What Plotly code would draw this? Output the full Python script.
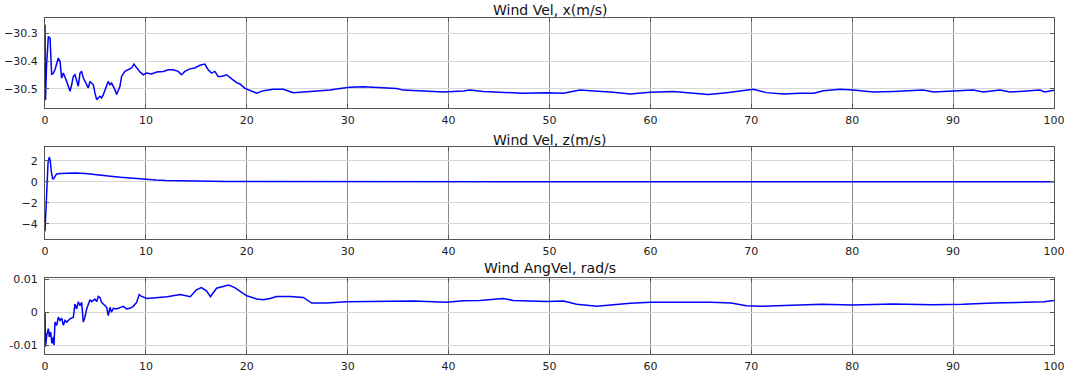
import plotly.graph_objects as go

# ---- data ----
t_velx = [0, 0.05, 0.15, 0.33, 0.5, 0.66, 0.83, 0.99, 1.32, 1.49, 1.65, 1.82, 2.15, 2.48, 2.64, 2.81,
          2.97, 3.14, 3.30, 3.47, 3.63, 3.80, 3.96, 4.29, 4.46, 4.79, 4.95, 5.12, 5.45, 5.61, 5.78,
          6.11, 6.27, 6.44, 6.60, 6.93, 7.10, 7.43, 7.59, 7.92, 8.25, 8.58, 8.81, 9.08, 9.41, 9.74,
          10.07, 10.56, 11.06, 11.72, 12.21, 12.71, 13.2, 13.53, 13.86, 14.36, 14.85, 15.35, 15.84,
          16.17, 16.5, 16.83, 17.16, 17.49, 17.99, 18.48, 18.98, 19.31, 19.82, 20.98, 21.64, 22.63,
          23.62, 24.61, 26.6, 28.24, 29.24, 30.23, 31.55, 33.2, 34.85, 35.5, 37.5, 39.5, 41.46, 42.1,
          43.44, 45.75, 47.4, 49.7, 51.4, 53.0, 54.7, 56.3, 58.0, 59.97, 62.27, 63.9, 65.74, 67.56,
          68.88, 70.2, 71.5, 73.2, 74.8, 76.2, 77.14, 78.8, 80.1, 82.1, 84.1, 87.05, 88.05, 90.0,
          92.0, 93.0, 94.65, 95.65, 96.95, 98.6, 99.1, 100]
velx = [-30.27, -30.54, -30.42, -30.312, -30.318, -30.449, -30.443, -30.431, -30.389, -30.401,
        -30.461, -30.443, -30.473, -30.508, -30.485, -30.455, -30.449, -30.473, -30.490, -30.443,
        -30.437, -30.461, -30.473, -30.496, -30.473, -30.485, -30.514, -30.538, -30.526, -30.532,
        -30.520, -30.490, -30.473, -30.485, -30.479, -30.502, -30.520, -30.490, -30.455, -30.437,
        -30.431, -30.425, -30.411, -30.425, -30.439, -30.449, -30.443, -30.446, -30.439, -30.437,
        -30.431, -30.431, -30.437, -30.449, -30.437, -30.428, -30.425, -30.415, -30.411, -30.431,
        -30.443, -30.437, -30.455, -30.455, -30.449, -30.463, -30.477, -30.482, -30.498, -30.515,
        -30.506, -30.501, -30.501, -30.513, -30.509, -30.504, -30.498, -30.494, -30.492, -30.494,
        -30.498, -30.504, -30.507, -30.511, -30.507, -30.504, -30.509, -30.512, -30.515, -30.513,
        -30.515, -30.504, -30.507, -30.512, -30.518, -30.512, -30.509, -30.513, -30.520, -30.513,
        -30.506, -30.501, -30.513, -30.518, -30.515, -30.515, -30.506, -30.501, -30.504, -30.511,
        -30.509, -30.504, -30.511, -30.508, -30.504, -30.511, -30.504, -30.511, -30.508, -30.504,
        -30.511, -30.504]

t_velz = [0, 0.08, 0.17, 0.3, 0.42, 0.52, 0.62, 0.75, 0.85, 0.99, 1.15, 1.5, 2, 3, 4, 4.5, 5.5,
          6.5, 7.5, 8.5, 10, 11, 12, 14, 16, 18, 20, 25, 30, 40, 60, 80, 100]
velz = [-4.7, -3.0, -0.4, 1.8, 2.35, 2.0, 1.0, 0.3, 0.3, 0.5, 0.75, 0.78, 0.8, 0.84, 0.78, 0.74,
        0.64, 0.52, 0.42, 0.33, 0.22, 0.17, 0.13, 0.08, 0.05, 0.03, 0.02, 0.01, 0.01, 0.0, 0.0,
        0.0, 0.0]

t_angv = [0, 0.05, 0.17, 0.33, 0.43, 0.56, 0.69, 0.83, 0.89, 0.99, 1.16, 1.32, 1.49, 1.65, 1.82,
          1.98, 2.15, 2.48, 2.81, 2.97, 3.14, 3.30, 3.47, 3.63, 3.80, 3.96, 4.13, 4.46, 4.62, 4.95,
          5.12, 5.28, 5.45, 5.61, 5.78, 6.11, 6.27, 6.44, 6.60, 6.77, 7.10, 7.43, 7.76, 8.09, 8.42,
          8.75, 9.08, 9.34, 9.57, 10.1, 12.1, 13.4, 14.4, 15.0, 15.5, 16.0, 16.4, 17.0, 18.2, 18.8,
          20.0, 21.0, 21.64, 22.3, 22.96, 24.29, 25.6, 26.43, 27.9, 29.9, 33.2, 36.5, 39.8, 41.46,
          43.1, 45.4, 46.4, 49.7, 51.4, 52.7, 54.7, 56.3, 58.0, 59.97, 63, 66, 68, 69.5, 71, 74, 77,
          80, 84, 88, 91, 94, 97, 99, 100]
angv = [0.0, -0.0105, -0.007, -0.005, -0.0075, -0.006, -0.0095, -0.0075, -0.010, -0.003, -0.004,
        -0.0015, -0.0025, -0.0018, -0.004, -0.0025, -0.003, -0.002, -0.0015, 0.0025, 0.001, 0.0032,
        0.002, 0.003, -0.003, -0.0015, 0.001, 0.0038, 0.0032, 0.004, 0.0032, 0.0048, 0.0045, 0.003,
        0.0025, 0.0015, -0.001, 0.0015, 0.0, 0.0012, 0.001, 0.0015, 0.0018, 0.001, 0.0012, 0.0018,
        0.003, 0.0054, 0.0048, 0.0042, 0.0047, 0.0054, 0.0047, 0.0068, 0.0075, 0.0065, 0.0047,
        0.0073, 0.0083, 0.0075, 0.005, 0.004, 0.0038, 0.0042, 0.0048, 0.0048, 0.0045, 0.0028,
        0.0028, 0.0032, 0.0033, 0.0034, 0.003, 0.0035, 0.0036, 0.0042, 0.0036, 0.0033, 0.0034,
        0.0024, 0.0018, 0.0023, 0.0027, 0.003, 0.0031, 0.003, 0.0028, 0.002, 0.0018, 0.0022,
        0.0024, 0.0022, 0.0025, 0.0023, 0.0024, 0.0028, 0.003, 0.0032, 0.0036]

titles = ["Wind Vel, x(m/s)", "Wind Vel, z(m/s)", "Wind AngVel, rad/s"]
x_ticks = [0, 10, 20, 30, 40, 50, 60, 70, 80, 90, 100]
y1_ticks = [-30.5, -30.4, -30.3]
y2_ticks = [-4, -2, 0, 2]
y3_ticks = [-0.01, 0, 0.01]
y3_labels = ["-0.01", "0", "0.01"]

# ---- figure ----
W, H = 1073, 376
ml, mr, mt, mb = 45, 19, 18, 22
ph = H - mt - mb

def dom(top_px, bot_px):
    return [(H - mb - bot_px) / ph, (H - mb - top_px) / ph]

font = dict(family="DejaVu Sans, Arial, sans-serif", size=11, color="#222")
line = dict(color="#0000ff", width=1.5)

fig = go.Figure()
fig.add_trace(go.Scatter(x=t_velx, y=velx, mode="lines", line=line, xaxis="x", yaxis="y"))
fig.add_trace(go.Scatter(x=t_velz, y=velz, mode="lines", line=line, xaxis="x2", yaxis="y2"))
fig.add_trace(go.Scatter(x=t_angv, y=angv, mode="lines", line=line, xaxis="x3", yaxis="y3"))

xcommon = dict(range=[0, 100], tickvals=x_ticks, showgrid=True, gridcolor="#8a8a8a", gridwidth=1,
               zeroline=False, showline=True, linecolor="#555", linewidth=1, mirror="ticks",
               ticks="inside", ticklen=4, tickcolor="#555", tickfont=font, automargin=False,
               ticklabelstandoff=2)
ycommon = dict(showgrid=True, gridcolor="#d6d6d6", gridwidth=1, zeroline=False, showline=True,
               linecolor="#555", linewidth=1, mirror="ticks", ticks="inside", ticklen=4,
               tickcolor="#555", tickfont=font, automargin=False, ticklabelstandoff=4)

fig.update_layout(
    width=W, height=H, margin=dict(l=ml, r=mr, t=mt, b=mb, autoexpand=False),
    paper_bgcolor="white", plot_bgcolor="white", showlegend=False,
    xaxis=dict(xcommon, anchor="y"),
    xaxis2=dict(xcommon, anchor="y2"),
    xaxis3=dict(xcommon, anchor="y3"),
    yaxis=dict(ycommon, anchor="x", domain=dom(18, 108), range=[-30.568, -30.246], tickvals=y1_ticks),
    yaxis2=dict(ycommon, anchor="x2", domain=dom(146.7, 239), range=[-5.43, 3.33], tickvals=y2_ticks),
    yaxis3=dict(ycommon, anchor="x3", domain=dom(277.7, 354), range=[-0.0127, 0.0105],
                tickvals=y3_ticks, ticktext=y3_labels),
)

title_px = [10, 140, 268]
for txt, ypx in zip(titles, title_px):
    fig.add_annotation(text=txt, xref="paper", yref="paper", x=0.5, y=(H - mb - ypx) / ph,
                       xanchor="center", yanchor="middle", showarrow=False,
                       font=dict(family="DejaVu Sans, Arial, sans-serif", size=14, color="#111"))

fig.write_html("out.html")
